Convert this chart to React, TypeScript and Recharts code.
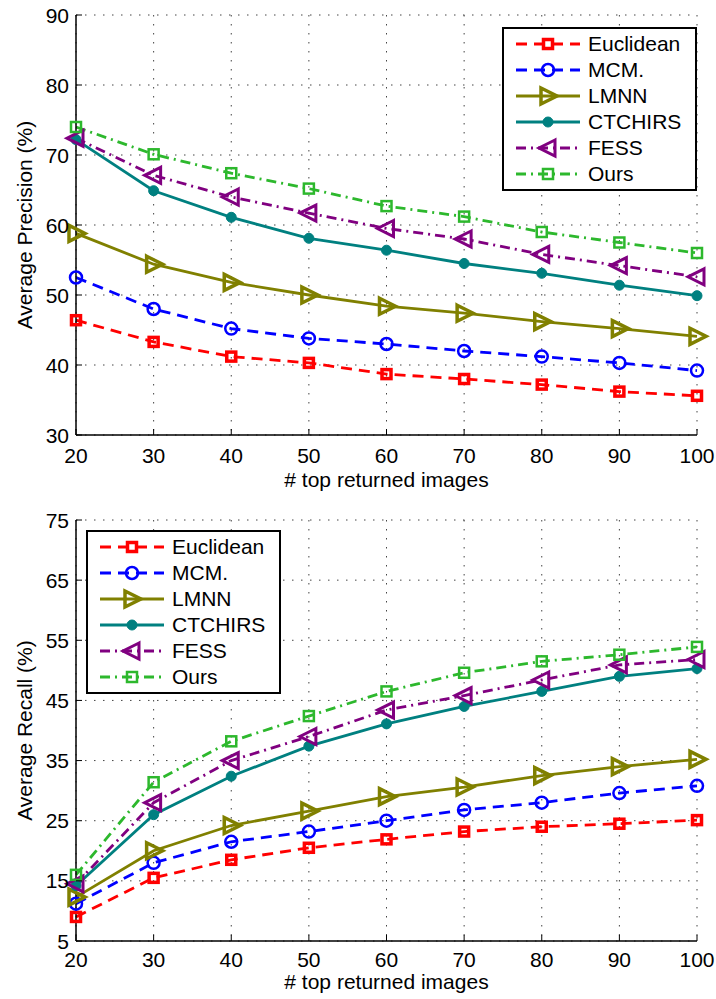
import React from 'react';
import { LineChart, Line, XAxis, YAxis, CartesianGrid, Legend } from 'recharts';

const topK = [20, 30, 40, 50, 60, 70, 80, 90, 100];

// Average precision (%)
const euclideanPrec = [46.4, 43.3, 41.2, 40.3, 38.7, 38.0, 37.2, 36.2, 35.6];
const mcmPrec = [52.5, 48.0, 45.2, 43.8, 43.0, 42.0, 41.2, 40.3, 39.2];
const lmnnPrec = [58.8, 54.4, 51.8, 50.0, 48.4, 47.4, 46.2, 45.2, 44.1];
const ctchirsPrec = [72.2, 64.9, 61.1, 58.1, 56.4, 54.5, 53.1, 51.4, 49.9];
const fessPrec = [72.4, 67.1, 64.0, 61.7, 59.5, 58.0, 55.8, 54.2, 52.6];
const oursPrec = [74.0, 70.1, 67.4, 65.2, 62.7, 61.2, 59.0, 57.5, 56.0];

// Average recall (%)
const euclideanRec = [9.0, 15.5, 18.5, 20.5, 21.9, 23.2, 24.0, 24.5, 25.1];
const mcmRec = [11.2, 18.0, 21.5, 23.2, 25.0, 26.8, 28.0, 29.6, 30.8];
const lmnnRec = [12.3, 20.0, 24.2, 26.6, 29.0, 30.6, 32.5, 34.0, 35.2];
const ctchirsRec = [14.2, 26.0, 32.4, 37.4, 41.1, 44.0, 46.5, 49.0, 50.3];
const fessRec = [14.5, 28.0, 35.0, 39.0, 43.4, 45.8, 48.4, 50.9, 51.8];
const oursRec = [16.0, 31.4, 38.2, 42.4, 46.5, 49.6, 51.5, 52.6, 53.9];

const precTicks = [30, 40, 50, 60, 70, 80, 90];
const recTicks = [5, 15, 25, 35, 45, 55, 65, 75];

type Mark = 'sqFill' | 'circle' | 'triR' | 'disc' | 'triL' | 'sq';

const SERIES: { key: string; name: string; color: string; dash?: string; mark: Mark }[] = [
  { key: 'euclidean', name: 'Euclidean', color: '#ff0000', dash: '11 7', mark: 'sqFill' },
  { key: 'mcm', name: 'MCM.', color: '#0000ff', dash: '11 7', mark: 'circle' },
  { key: 'lmnn', name: 'LMNN', color: '#808000', mark: 'triR' },
  { key: 'ctchirs', name: 'CTCHIRS', color: '#008080', mark: 'disc' },
  { key: 'fess', name: 'FESS', color: '#800080', dash: '10 5 2 5', mark: 'triL' },
  { key: 'ours', name: 'Ours', color: '#2db82d', dash: '10 5 2 5', mark: 'sq' },
];

const buildRows = (cols: Record<string, number[]>) =>
  topK.map((k, i) => {
    const row: Record<string, number> = { k };
    Object.keys(cols).forEach((c) => (row[c] = cols[c][i]));
    return row;
  });

const precData = buildRows({
  euclidean: euclideanPrec, mcm: mcmPrec, lmnn: lmnnPrec,
  ctchirs: ctchirsPrec, fess: fessPrec, ours: oursPrec,
});
const recData = buildRows({
  euclidean: euclideanRec, mcm: mcmRec, lmnn: lmnnRec,
  ctchirs: ctchirsRec, fess: fessRec, ours: oursRec,
});

// hollow markers let the line show through, like the original plot
const Marker = ({ cx, cy, mark, color }: { cx: number; cy: number; mark: Mark; color: string }) => {
  switch (mark) {
    case 'sqFill':
      return <rect x={cx - 4.5} y={cy - 4.5} width={9} height={9} fill="none" stroke={color} strokeWidth={3.5} />;
    case 'sq':
      return <rect x={cx - 5} y={cy - 5} width={10} height={10} fill="none" stroke={color} strokeWidth={2.5} />;
    case 'circle':
      return <circle cx={cx} cy={cy} r={6} fill="none" stroke={color} strokeWidth={2.5} />;
    case 'disc':
      return <circle cx={cx} cy={cy} r={5} fill={color} stroke={color} strokeWidth={1} />;
    case 'triR':
      return (
        <polygon
          points={`${cx - 7},${cy - 8} ${cx + 9},${cy} ${cx - 7},${cy + 8}`}
          fill="none" stroke={color} strokeWidth={3.5} strokeLinejoin="miter"
        />
      );
    case 'triL':
      return (
        <polygon
          points={`${cx + 7},${cy - 8} ${cx - 9},${cy} ${cx + 7},${cy + 8}`}
          fill="none" stroke={color} strokeWidth={3} strokeLinejoin="miter"
        />
      );
  }
  return null;
};

const LegendBox = () => (
  <div style={{ border: '2px solid #000', background: '#fff', padding: '2px 10px 2px 0', width: 181 }}>
    {SERIES.map((s) => (
      <div key={s.key} style={{ display: 'flex', alignItems: 'center', height: 26 }}>
        <svg width={84} height={26} style={{ flex: 'none' }}>
          <line x1={12} x2={76} y1={13} y2={13} stroke={s.color} strokeWidth={2.8} strokeDasharray={s.dash} />
          <Marker cx={44} cy={13} mark={s.mark} color={s.color} />
        </svg>
        <span style={{ fontSize: 21, color: '#000', lineHeight: '26px' }}>{s.name}</span>
      </div>
    ))}
  </div>
);

const makeXTick = (dy: number) => (props: any) => {
  const { x, y, payload } = props;
  return (
    <g>
      <line x1={x} x2={x} y1={y} y2={y - 6} stroke="#000" strokeWidth={1} />
      <text x={x} y={y + dy} textAnchor="middle" fontSize={21} fill="#000">{payload.value}</text>
    </g>
  );
};

const YTick = (props: any) => {
  const { x, y, payload } = props;
  return (
    <g>
      <line x1={x} x2={x + 6} y1={y} y2={y} stroke="#000" strokeWidth={1} />
      <text x={x - 7} y={y + 7.5} textAnchor="end" fontSize={21} fill="#000">{payload.value}</text>
    </g>
  );
};

interface PanelProps {
  data: Record<string, number>[];
  yTicks: number[];
  yLabel: string;
  height: number;
  top: number;
  xAxisHeight: number;
  xTickDy: number;
  xLabelDy: number;
  legendPos: { left: number; top: number };
}

const Panel = ({ data, yTicks, yLabel, height, top, xAxisHeight, xTickDy, xLabelDy, legendPos }: PanelProps) => {
  const domain = [yTicks[0], yTicks[yTicks.length - 1]];
  return (
    <LineChart width={716} height={height} data={data} margin={{ top, right: 19, bottom: 0, left: 0 }}>
      <CartesianGrid xAxisId="x" yAxisId="y" stroke="#444" strokeDasharray="1.5 7.5" />
      <XAxis
        xAxisId="x" dataKey="k" type="number" domain={[20, 100]} ticks={topK}
        height={xAxisHeight} tickSize={0} tickMargin={0} tickLine={false}
        axisLine={{ stroke: '#000', strokeWidth: 1.5 }} tick={makeXTick(xTickDy)}
        label={{ value: '# top returned images', position: 'center', dy: xLabelDy, fontSize: 21, fill: '#000' }}
      />
      <XAxis
        xAxisId="top" dataKey="k" type="number" domain={[20, 100]} ticks={topK}
        orientation="top" mirror height={0} tick={false} tickSize={5}
        axisLine={{ stroke: '#000', strokeWidth: 1.5 }} tickLine={{ stroke: '#000' }}
      />
      <YAxis
        yAxisId="y" type="number" domain={domain} ticks={yTicks} width={76}
        tickSize={0} tickMargin={0} tickLine={false}
        axisLine={{ stroke: '#000', strokeWidth: 1.5 }} tick={YTick}
        label={{ value: yLabel, angle: -90, position: 'center', dx: -13, fontSize: 21, fill: '#000' }}
      />
      <YAxis
        yAxisId="right" type="number" domain={domain} ticks={yTicks}
        orientation="right" mirror width={0} tick={false} tickSize={5}
        axisLine={{ stroke: '#000', strokeWidth: 1.5 }} tickLine={{ stroke: '#000' }}
      />
      <Legend
        layout="vertical" align="center" verticalAlign="middle"
        wrapperStyle={{ left: legendPos.left, top: legendPos.top }}
        content={() => <LegendBox />}
      />
      {SERIES.map((s) => (
        <Line
          key={s.key}
          xAxisId="x"
          yAxisId="y"
          dataKey={s.key}
          name={s.name}
          stroke={s.color}
          strokeWidth={2.8}
          strokeDasharray={s.dash}
          isAnimationActive={false}
          dot={(p: any) => <Marker key={`${s.key}-${p.index}`} cx={p.cx} cy={p.cy} mark={s.mark} color={s.color} />}
        />
      ))}
    </LineChart>
  );
};

export default function App() {
  return (
    <div style={{ position: 'absolute', left: 0, top: 0, width: 716, background: '#fff', fontFamily: '"Liberation Sans", Arial, sans-serif' }}>
      <Panel
        data={precData} yTicks={precTicks} yLabel="Average Precision (%)"
        height={500} top={15} xAxisHeight={65} xTickDy={27.5} xLabelDy={12.5}
        legendPos={{ left: 502, top: 27 }}
      />
      <Panel
        data={recData} yTicks={recTicks} yLabel="Average Recall (%)"
        height={499} top={20} xAxisHeight={58} xTickDy={25.5} xLabelDy={11.5}
        legendPos={{ left: 86, top: 30 }}
      />
    </div>
  );
}
